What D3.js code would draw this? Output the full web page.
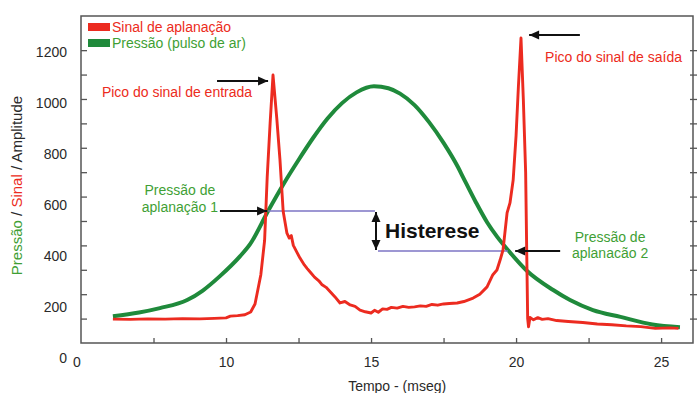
<!DOCTYPE html>
<html>
<head>
<meta charset="utf-8">
<script src="https://cdn.jsdelivr.net/npm/d3@7"></script>
<style>
    body { margin: 0; background: #fff; }
    svg { display: block; font-family: "Liberation Sans", Arial, sans-serif; }
</style>
</head>
<body>
<svg id="chart" width="697" height="393"></svg>
<script>
// pressure (air puff), time in ms vs value
const pressure = [
    [6.1, 110], [7, 125], [7.72, 143], [8.66, 176], [9.2, 215], [9.8, 275],
    [10.48, 355], [10.83, 405], [11.45, 541], [12, 655], [12.5, 750], [13, 840],
    [13.5, 920], [14, 983], [14.5, 1027], [15.1, 1052], [15.6, 1044], [16, 1022],
    [16.5, 975], [17, 905], [17.5, 820], [18, 720], [18.17, 680], [18.6, 580],
    [19, 495], [19.35, 435], [19.72, 381], [20.38, 295], [21.28, 217], [21.86, 176],
    [22.65, 135], [23.6, 107], [24.7, 76], [25.65, 65]
];

// applanation signal
const signal = [
    [6.1, 98], [6.7, 97], [7.3, 99], [7.9, 98], [8.5, 100], [9.1, 99], [9.6, 101],
    [10.0, 103], [10.15, 110], [10.4, 112], [10.65, 116], [10.85, 127], [11.0, 160],
    [11.2, 280], [11.33, 420], [11.42, 680], [11.52, 900], [11.62, 1098], [11.75, 920],
    [11.86, 750], [11.97, 540], [12.1, 450], [12.18, 430], [12.25, 440], [12.32, 400],
    [12.45, 370], [12.55, 348], [12.7, 320], [12.8, 305], [12.9, 291], [13.05, 270],
    [13.2, 255], [13.3, 240], [13.45, 228], [13.6, 209], [13.75, 190], [13.93, 164],
    [14.1, 170], [14.28, 156], [14.45, 150], [14.62, 135], [14.8, 128], [15.0, 123],
    [15.12, 134], [15.25, 126], [15.4, 140], [15.55, 138], [15.7, 146], [15.9, 143],
    [16.1, 150], [16.3, 146], [16.5, 148], [16.7, 152], [16.9, 150], [17.1, 158],
    [17.3, 155], [17.5, 160], [17.7, 162], [17.97, 164], [18.2, 170], [18.52, 184],
    [18.75, 200], [19.0, 230], [19.2, 280], [19.34, 299], [19.45, 340], [19.55, 381],
    [19.69, 533], [19.79, 574], [19.9, 668], [20.0, 850], [20.08, 1050], [20.17, 1250],
    [20.25, 1000], [20.33, 700], [20.37, 350], [20.4, 100], [20.43, 66], [20.48, 105],
    [20.6, 95], [20.75, 104], [20.9, 97], [21.1, 100], [21.4, 92], [21.8, 88],
    [22.3, 84], [22.8, 78], [23.3, 75], [23.8, 70], [24.3, 67], [24.8, 60],
    [25.3, 62], [25.6, 60]
];

const seriesNames = ["Sinal de aplanação", "Pressão (pulso de ar)"];
const yTicks = d3.range(100, 1300, 100);
const yLabels = [0, 200, 400, 600, 800, 1000, 1200];
const xTicks = [7.5, 10, 12.5, 15, 17.5, 20, 22.5, 25];
const xLabels = [10, 15, 20, 25];
// applanation points: [time, pressure]
const aplanacao = [[11.45, 541], [19.72, 377]];
const histereseX = 15.17;

const red = "#ec2b20", green = "#1f8a3b", txtGreen = "#3f9f35", lilac = "#7d75c4";

const svg = d3.select("#chart");
const m = { left: 81, right: 693, top: 16, bottom: 343 };

const x = d3.scaleLinear().domain([5, 26.1]).range([m.left, m.right]);
const y = d3.scaleLinear().domain([0, 1340]).range([m.bottom, m.top]);
// the scanned labels drift slightly from the tick marks
const yLab = d3.scaleLinear().domain([0, 1200]).range([358, 52]);

// frame
svg.append("rect")
    .attr("x", m.left).attr("y", m.top)
    .attr("width", m.right - m.left).attr("height", m.bottom - m.top)
    .attr("fill", "none").attr("stroke", "#555").attr("stroke-width", 1.5);

function styleAxis(g) {
    g.select(".domain").remove();
    g.selectAll("line").attr("stroke", "#555").attr("stroke-width", 1.3);
    g.selectAll("text").attr("fill", "#2a2a2a").style("font-size", "14px")
        .style("font-family", "'Liberation Sans', Arial, sans-serif");
}

svg.append("g").attr("transform", `translate(${m.left},0)`)
    .call(d3.axisLeft(y).tickValues(yTicks).tickSize(-6).tickFormat(""))
    .call(styleAxis);
svg.append("g").attr("transform", `translate(${m.left},0)`)
    .call(d3.axisLeft(yLab).tickValues(yLabels).tickSize(0).tickPadding(14).tickFormat(d3.format("d")))
    .call(styleAxis);
svg.append("g").attr("transform", `translate(${m.right - 3},0)`)
    .call(d3.axisRight(y).tickValues(yTicks).tickSize(7).tickFormat(""))
    .call(styleAxis);
svg.append("g").attr("transform", `translate(0,${m.bottom})`)
    .call(d3.axisBottom(x).tickValues(xTicks).tickSize(-5).tickFormat(""))
    .call(styleAxis);
svg.append("g").attr("transform", `translate(0,${m.bottom})`)
    .call(d3.axisBottom(x).tickValues(xLabels).tickSize(0).tickPadding(14).tickFormat(d3.format("d")))
    .call(styleAxis);

// origin "0" of the time axis
svg.append("text")
    .attr("x", x(5) - 4).attr("y", m.bottom + 14).attr("dy", "0.71em")
    .attr("text-anchor", "middle").attr("fill", "#2a2a2a").style("font-size", "14px")
    .text("0");

// axis titles
svg.append("text")
    .attr("x", x(15.9)).attr("y", 391)
    .attr("text-anchor", "middle").attr("fill", "#2a2a2a").style("font-size", "14px")
    .text("Tempo - (mseg)");

const yTitle = svg.append("text")
    .attr("transform", `translate(22,${(93 + 278) / 2}) rotate(-90)`)
    .attr("text-anchor", "middle").style("font-size", "15px");
yTitle.append("tspan").attr("fill", txtGreen).text("Pressão");
yTitle.append("tspan").attr("fill", "#2a2a2a").text(" / ");
yTitle.append("tspan").attr("fill", red).text("Sinal");
yTitle.append("tspan").attr("fill", "#2a2a2a").text(" / Amplitude");

// series
const line = d3.line().x(d => x(d[0])).y(d => y(d[1]));

svg.append("path")
    .attr("d", line.curve(d3.curveMonotoneX)(pressure))
    .attr("fill", "none").attr("stroke", green).attr("stroke-width", 4);

// applanation levels (hysteresis)
const [p1, p2] = aplanacao;
svg.append("path")
    .attr("d", `M${x(p1[0])},${y(p1[1])}H${x(histereseX) - 1}`)
    .attr("stroke", lilac).attr("stroke-width", 1.6);
svg.append("path")
    .attr("d", `M${x(histereseX) + 2},${y(p2[1])}H${x(p2[0])}`)
    .attr("stroke", lilac).attr("stroke-width", 1.6);

svg.append("path")
    .attr("d", line.curve(d3.curveLinear)(signal))
    .attr("fill", "none").attr("stroke", red).attr("stroke-width", 2.9)
    .attr("stroke-linejoin", "round");

// arrows
function arrowHead(px, py, angle, len = 10, half = 4.5) {
    const c = Math.cos(angle), s = Math.sin(angle);
    const bx = px - c * len, by = py - s * len;
    return `M${px},${py}L${bx - s * half},${by + c * half}L${bx + s * half},${by - c * half}Z`;
}

function arrow(x1, y1, x2, y2, both = false) {
    const a = Math.atan2(y2 - y1, x2 - x1);
    const g = svg.append("g");
    g.append("line")
        .attr("x1", x1).attr("y1", y1).attr("x2", x2).attr("y2", y2)
        .attr("stroke", "#111").attr("stroke-width", 2);
    g.append("path").attr("d", arrowHead(x2, y2, a)).attr("fill", "#111");
    if (both) {
        g.append("path").attr("d", arrowHead(x1, y1, a + Math.PI)).attr("fill", "#111");
    }
}

arrow(x(9.69), y(1074), x(11.45), y(1074));
arrow(x(22.2), y(1262), x(20.45), y(1262));
arrow(x(9.79), y(p1[1]), x(p1[0]) - 1, y(p1[1]));
arrow(x(21.52), y(p2[1]), x(19.97), y(p2[1]));
arrow(x(histereseX), y(p1[1]) + 1, x(histereseX), y(p2[1]) - 1, true);

// annotations
function label(t, v, txt, color, anchor = "start", size = 14, weight = "normal") {
    svg.append("text")
        .attr("x", x(t)).attr("y", y(v))
        .attr("text-anchor", anchor).attr("fill", color)
        .style("font-size", `${size}px`).style("font-weight", weight)
        .text(txt);
}

label(5.72, 1008, "Pico do sinal de entrada", red);
label(21.0, 1152, "Pico do sinal de saída", red);
label(8.41, 607, "Pressão de", txtGreen, "middle");
label(8.41, 537, "aplanação 1", txtGreen, "middle");
label(23.24, 414, "Pressão de", txtGreen, "middle");
label(23.24, 348, "aplanacão 2", txtGreen, "middle");
label(15.48, 430, "Histerese", "#111", "start", 21, "bold");

// legend
const legend = svg.append("g");
[red, green].forEach((c, i) => {
    legend.append("rect")
        .attr("x", 88).attr("y", 23 + i * 16)
        .attr("width", 22).attr("height", 8).attr("fill", c);
    legend.append("text")
        .attr("x", 112).attr("y", 32 + i * 16)
        .attr("fill", i === 0 ? red : txtGreen).style("font-size", "14px")
        .text(seriesNames[i]);
});
</script>
</body>
</html>
